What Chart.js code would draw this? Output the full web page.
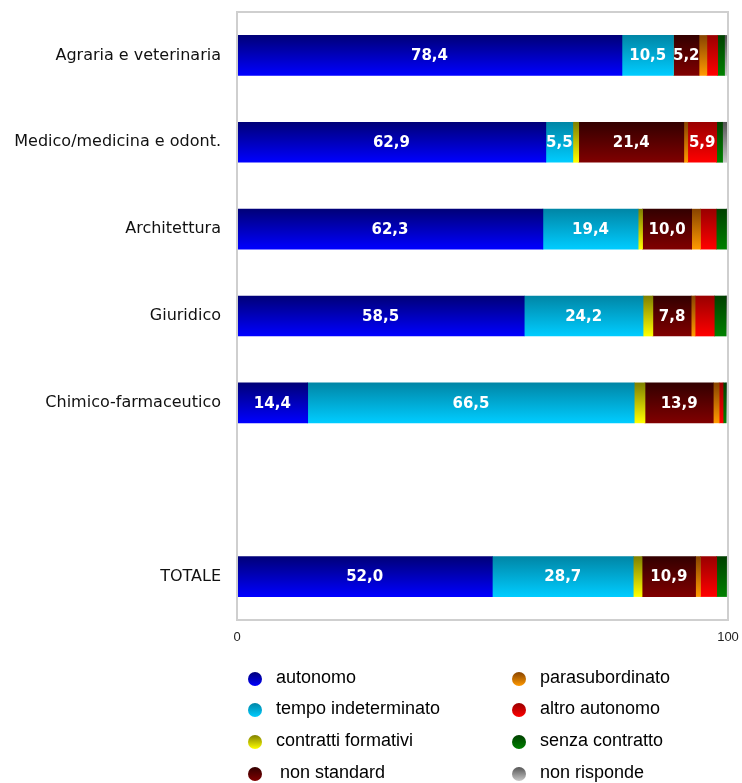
<!DOCTYPE html>
<html>
<head>
<meta charset="utf-8">
<script src="https://cdn.jsdelivr.net/npm/chart.js@4/dist/chart.umd.min.js"></script>
<style>
  html, body { margin: 0; padding: 0; background: #fff; }
  #wrap { width: 742px; height: 783px; }
</style>
</head>
<body>
<div id="wrap"><canvas id="chart" width="742" height="783"></canvas></div>
<script>
// categories (the empty one is the gap before TOTALE)
const categories = ["Agraria e veterinaria", "Medico/medicina e odont.", "Architettura", "Giuridico", "Chimico-farmaceutico", "", "TOTALE"];

const autonomo       = [78.4, 62.9, 62.3, 58.5, 14.4, null, 52.0];
const tempoIndet     = [10.5,  5.5, 19.4, 24.2, 66.5, null, 28.7];
const formativi      = [ 0.0,  1.2,  0.9,  2.0,  2.2, null,  1.8];
const nonStandard    = [ 5.2, 21.4, 10.0,  7.8, 13.9, null, 10.9];
const parasub        = [ 1.6,  0.8,  1.8,  0.8,  1.2, null,  1.0];
const altroAutonomo  = [ 2.2,  5.9,  3.2,  3.9,  0.8, null,  3.3];
const senzaContratto = [ 1.4,  1.2,  2.1,  2.4,  0.6, null,  2.0];
const nonRisponde    = [ 0.7,  1.2,  0.3,  0.4,  0.4, null,  0.3];

const xTicks = [0, 100];

const series = [
  { label: "autonomo",            data: autonomo,       top: "#000078", bottom: "#0000ff" },
  { label: "tempo indeterminato", data: tempoIndet,     top: "#0086a6", bottom: "#00ccff" },
  { label: "contratti formativi", data: formativi,      top: "#808000", bottom: "#ffff00" },
  { label: "non standard",        data: nonStandard,    top: "#330000", bottom: "#800000" },
  { label: "parasubordinato",     data: parasub,        top: "#884400", bottom: "#ff9900" },
  { label: "altro autonomo",      data: altroAutonomo,  top: "#990000", bottom: "#ff0000" },
  { label: "senza contratto",     data: senzaContratto, top: "#004000", bottom: "#008000" },
  { label: "non risponde",        data: nonRisponde,    top: "#555555", bottom: "#c8c8c8" }
];

const BAR_H = 40;

function barGradient(top, bottom) {
  return function(c) {
    const chart = c.chart;
    if (!chart.chartArea || !chart.scales.y) return bottom;
    const y = chart.scales.y.getPixelForValue(c.dataIndex);
    const g = chart.ctx.createLinearGradient(0, y - BAR_H / 2, 0, y + BAR_H / 2);
    g.addColorStop(0, top);
    g.addColorStop(1, bottom);
    return g;
  };
}

// frame round the plot area
const framePlugin = {
  id: "frame",
  afterDraw(chart) {
    const a = chart.chartArea, ctx = chart.ctx;
    ctx.save();
    ctx.strokeStyle = "#cfcfcf";
    ctx.lineWidth = 2;
    ctx.strokeRect(a.left, a.top, a.right - a.left, a.bottom - a.top);
    ctx.restore();
  }
};

// white values inside the bars
const valuePlugin = {
  id: "values",
  afterDatasetsDraw(chart) {
    const ctx = chart.ctx;
    ctx.save();
    ctx.font = "bold 15px 'DejaVu Sans'";
    ctx.fillStyle = "#fff";
    ctx.textAlign = "center";
    ctx.textBaseline = "middle";
    chart.data.datasets.forEach((ds, i) => {
      chart.getDatasetMeta(i).data.forEach((bar, j) => {
        const v = ds.data[j];
        if (v == null || v < 5) return;
        const x = (bar.x + bar.base) / 2;
        ctx.fillText(v.toFixed(1).replace(".", ","), x, bar.y + 1);
      });
    });
    ctx.restore();
  }
};

// two-column legend, filled column by column
const legendPlugin = {
  id: "legend2",
  afterDraw(chart) {
    const ctx = chart.ctx;
    const colX = [255, 519];
    const rowY = [679, 710, 742, 774];
    ctx.save();
    ctx.font = "18px 'Liberation Sans', Arial, sans-serif";
    ctx.textBaseline = "middle";
    series.forEach((s, i) => {
      const cx = colX[Math.floor(i / 4)];
      const cy = rowY[i % 4];
      const g = ctx.createLinearGradient(0, cy - 7, 0, cy + 7);
      g.addColorStop(0, s.top);
      g.addColorStop(1, s.bottom);
      ctx.beginPath();
      ctx.arc(cx, cy, 7, 0, Math.PI * 2);
      ctx.fillStyle = g;
      ctx.fill();
      ctx.fillStyle = "#000";
      const dx = s.label === "non standard" ? 25 : 21;
      ctx.fillText(s.label, cx + dx, cy - 1);
    });
    ctx.restore();
  }
};

new Chart(document.getElementById("chart"), {
  type: "bar",
  data: {
    labels: categories,
    datasets: series.map(s => ({
      label: s.label,
      data: s.data,
      backgroundColor: barGradient(s.top, s.bottom),
      borderWidth: 0,
      barThickness: BAR_H
    }))
  },
  options: {
    indexAxis: "y",
    responsive: false,
    animation: false,
    layout: { padding: { top: 12, right: 14, left: 0, bottom: 0 } },
    plugins: {
      legend: { display: false },
      tooltip: { enabled: false }
    },
    scales: {
      x: {
        stacked: true,
        min: 0,
        max: 100,
        afterBuildTicks: s => { s.ticks = xTicks.map(v => ({ value: v })); },
        afterFit: s => { s.height = 163; s.paddingLeft = 0; s.paddingRight = 0; },
        grid: { display: false, drawTicks: false },
        border: { display: false },
        ticks: {
          padding: 10,
          color: "#222",
          font: { family: "'Liberation Sans', Arial, sans-serif", size: 13 }
        }
      },
      y: {
        stacked: true,
        afterFit: s => { s.width = 237; s.paddingTop = 0; s.paddingBottom = 0; },
        grid: { display: false, drawTicks: false },
        border: { display: false },
        ticks: {
          padding: 16,
          color: "#111",
          font: { family: "'DejaVu Sans'", size: 16 }
        }
      }
    }
  },
  plugins: [framePlugin, valuePlugin, legendPlugin]
});
</script>
</body>
</html>
